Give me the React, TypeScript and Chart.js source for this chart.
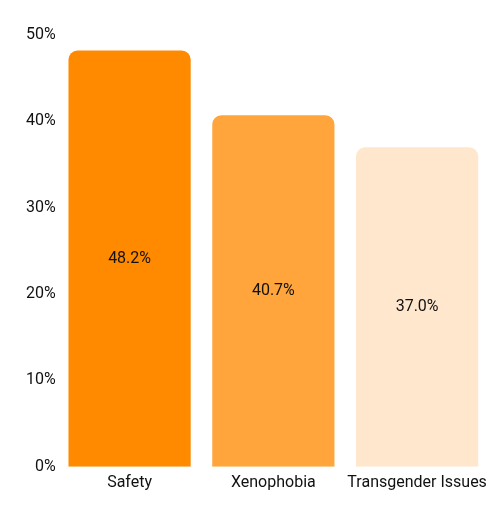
import { useEffect, useRef } from 'react';
import { Chart, registerables, Plugin } from 'chart.js';

Chart.register(...registerables);

const categories = ['Safety', 'Xenophobia', 'Transgender Issues'];
const shares = [48.2, 40.7, 37.0];
const barColors = ['#FF8A00', '#FFA53C', '#FFE7CE'];
const yTicks = [0, 10, 20, 30, 40, 50];

const FONT = 'Roboto, "Noto Sans", sans-serif';

// draws the value in the middle of each bar
const centerLabels: Plugin<'bar'> = {
  id: 'centerLabels',
  afterDatasetsDraw(chart) {
    const ctx = chart.ctx;
    const meta = chart.getDatasetMeta(0);
    ctx.save();
    ctx.font = `16px ${FONT}`;
    ctx.fillStyle = '#111111';
    ctx.textAlign = 'center';
    ctx.textBaseline = 'middle';
    meta.data.forEach((bar: any, i) => {
      const y = (bar.y + bar.base) / 2;
      ctx.fillText(shares[i].toFixed(1) + '%', bar.x, y);
    });
    ctx.restore();
  },
};

export default function App() {
  const canvasRef = useRef<HTMLCanvasElement>(null);
  const chartRef = useRef<Chart | null>(null);

  useEffect(() => {
    document.body.style.margin = '0';
    if (!canvasRef.current) return;
    if (chartRef.current) chartRef.current.destroy();

    chartRef.current = new Chart(canvasRef.current, {
      type: 'bar',
      data: {
        labels: categories,
        datasets: [
          {
            data: shares,
            backgroundColor: barColors,
            borderRadius: { topLeft: 9, topRight: 9, bottomLeft: 0, bottomRight: 0 },
            borderSkipped: false,
            barPercentage: 0.85,
            categoryPercentage: 1,
          },
        ],
      },
      options: {
        animation: false,
        responsive: true,
        maintainAspectRatio: false,
        layout: { padding: { top: 35, right: 11, left: 24, bottom: 9 } },
        plugins: {
          legend: { display: false },
          tooltip: { enabled: false },
        },
        scales: {
          x: {
            grid: { display: false, drawTicks: false },
            border: { display: false },
            ticks: {
              color: '#111111',
              font: { family: FONT, size: 16 },
              padding: 7,
              maxRotation: 0,
              minRotation: 0,
              autoSkip: false,
            },
          },
          y: {
            min: 0,
            max: 50,
            afterBuildTicks: (axis) => {
              axis.ticks = yTicks.map((v) => ({ value: v }));
            },
            grid: { display: false, drawTicks: false },
            border: { display: false },
            ticks: {
              color: '#111111',
              font: { family: FONT, size: 16 },
              padding: 2,
              callback: (v) => v + '%',
            },
          },
        },
      },
      plugins: [centerLabels],
    });

    return () => {
      if (chartRef.current) {
        chartRef.current.destroy();
        chartRef.current = null;
      }
    };
  }, []);

  return (
    <div style={{ width: 500, height: 509, position: 'relative', background: '#ffffff' }}>
      <canvas ref={canvasRef} />
    </div>
  );
}
